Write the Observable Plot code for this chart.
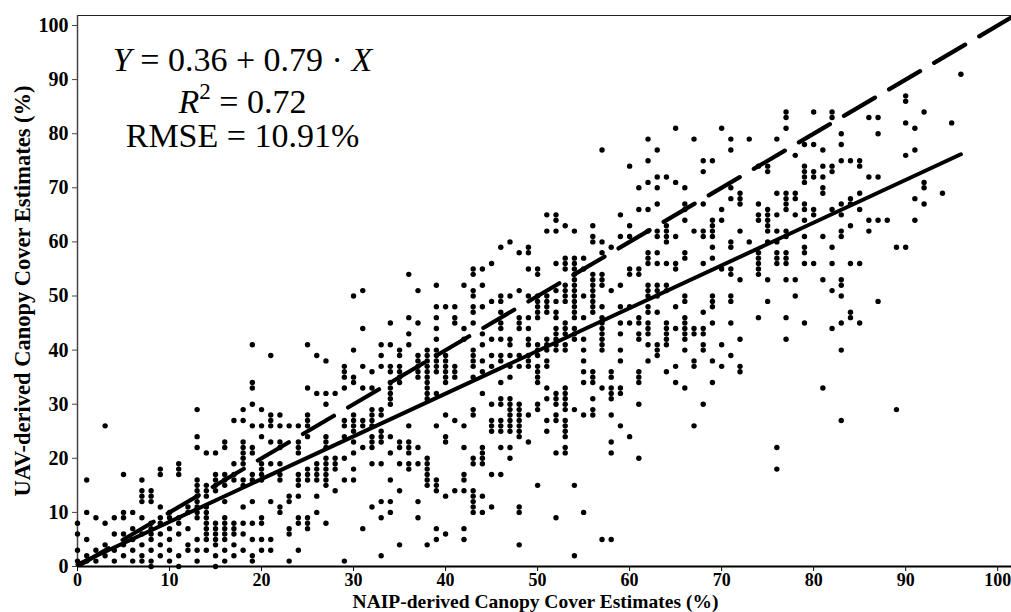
<!DOCTYPE html>
<html>
<head>
<meta charset="utf-8">
<script src="https://cdn.jsdelivr.net/npm/d3@7"></script>
<script src="https://cdn.jsdelivr.net/npm/@observablehq/plot@0.6"></script>
<style>
  html, body { margin: 0; padding: 0; background: #fff; }
  #chart svg { display: block; }
</style>
</head>
<body>
<div id="chart"></div>
<script>
// NAIP-derived canopy cover (x, %) columns and the UAV-derived values (y, %) read in each column
const naipX = [0,1,2,3,4,5,6,7,8,9,10,11,12,13,14,15,16,17,18,19,20,21,22,23,24,25,26,27,28,29,30,31,32,33,34,35,36,37,38,39,40,41,42,43,44,45,46,47,48,49,50,51,52,53,54,55,56,57,58,59,60,61,62,63,64,65,66,67,68,69,70,71,72,73,74,75,76,77,78,79,80,81,82,83,84,85,86,87,88,89,90,91,92,94,95,96];
const uavByColumn = [
  [1,3,6,8],
  [1,2,5,10,16],
  [1,3,9],
  [2,4,8,26],
  [1,3,6,9],
  [2,4,6,9,10,17],
  [1,3,5,7,10],
  [1,2,4,6,9,12,13,14,16],
  [0,1,3,5,6,7,8,12,13,14],
  [2,4,6,8,9,11,17,18],
  [1,3,5,7,9,10],
  [0,2,6,8,9,17,18,19],
  [3,4,7,10,11],
  [1,3,5,9,10,11,12,13,14,15,16,22,24,29],
  [3,5,6,7,8,9,10,11,13,14,15,21],
  [0,2,4,5,6,7,8,14,15,16,17,21],
  [1,3,5,6,7,8,9,12,15,16,17,22,23],
  [2,4,6,7,8,16,17,19,27],
  [3,6,8,11,15,16,19,20,21,22,23,27,29],
  [1,2,5,8,12,16,17,21,22,26,30,33,34,41],
  [3,5,8,9,16,17,18,19,24,26,29],
  [3,5,12,19,23,26,27,28,39],
  [10,11,16,17,19,22,23,26,28],
  [1,6,7,12,13,26],
  [3,8,9,13,15,16,17,21,22,23,26],
  [7,8,9,16,17,18,24,26,27,28,33,41],
  [10,13,16,17,18,19,32,39],
  [8,15,16,17,18,19,20,22,23,24,30,32,38],
  [14,18,19,20,32],
  [1,16,20,24,26,27,33,35,36,37],
  [16,18,21,23,25,26,27,28,34,35,40,50],
  [7,22,26,27,33,37,44,51],
  [11,19,22,23,24,26,27,28,29,33,36],
  [2,9,12,19,23,24,25,28,29,37,39,41],
  [10,12,16,21,24,30,31,32,33,34,36,37,41,45],
  [4,14,19,22,23,34,35,36,37,39,40],
  [18,19,21,22,23,26,41,43,46,54],
  [9,12,19,22,35,36,37,38,39,45,51],
  [4,15,16,17,18,19,20,31,32,33,34,35,36,37,38,39,40],
  [5,7,14,15,16,26,32,36,37,38,39,40,42,44,46,48,52],
  [6,13,23,24,28,34,35,36,37,38,39,48],
  [14,27,35,36,37,45,46,48],
  [5,7,14,16,17,22,26,42,44,52],
  [10,11,12,13,14,19,20,28,29,35,37,38,39,40,45,47,48,50,51,54,55],
  [10,13,19,20,21,22,32,36,38,41,43,48,52,55],
  [11,17,25,26,27,30,37,39,42,49,56],
  [17,22,25,26,27,30,31,34,38,39,42,44,45,47,49,50,59],
  [20,22,25,26,27,28,29,30,31,35,37,39,41,42,50,60],
  [4,10,11,24,25,26,27,28,29,30,37,39,44,45,46,51,58],
  [23,28,37,38,39,41,42,44,46,50,55,58,59],
  [15,29,30,34,35,36,37,39,40,41,46,47,48,49,50,54,55],
  [25,27,31,33,37,38,40,41,42,47,48,49,50,62,65],
  [9,21,27,28,30,31,32,40,41,42,43,44,46,47,49,51,56,62,64,65],
  [21,22,24,25,26,27,29,30,31,32,33,40,41,43,44,45,49,50,51,52,55,56,57,63],
  [2,15,29,42,43,44,46,47,48,49,50,51,52,53,54,55,56,57,62],
  [10,28,34,36,38,40,42,46,50,55,57],
  [28,29,31,34,35,36,47,48,49,50,51,52,53,54,60,61,63],
  [5,33,40,41,42,43,44,45,46,48,52,53,54,58,60,77],
  [5,21,23,28,31,32,33,35,36,51,59],
  [26,32,33,38,40,43,45,48,52,61,65],
  [24,45,48,54,55,61,63,74],
  [20,30,34,35,36,42,43,45,46,54,55,66,70],
  [38,41,43,44,45,47,48,50,51,52,56,57,58,62,66,71,75,79],
  [39,40,41,47,50,51,52,56,58,61,62,67,70,72,77],
  [36,41,42,43,44,45,51,52,56,60,61,62,63,72],
  [34,37,44,48,55,56,61,71,81],
  [33,40,42,43,44,45,46,49,50,57,58,64,66,67,70],
  [26,37,38,43,44,62,79],
  [30,40,41,43,44,47,56,61,62,67,73,75],
  [34,38,45,48,49,50,57,59,61,62,63,64,75],
  [37,41,55,64,66,81],
  [39,45,49,50,54,55,59,60,68,70,77,79],
  [36,37,42,53,62,67,68,69],
  [60,79],
  [46,54,55,56,57,58,64,65,67,74],
  [49,53,60,62,63,64,65,66,73,74],
  [18,22,56,57,58,60,62,65,69,79],
  [42,46,53,56,57,58,61,62,66,67,68,69,81,83,84],
  [50,53,65,68,69,76],
  [45,56,58,59,61,64,66,67,71,72,73,74,78],
  [56,65,66,72,73,78,84],
  [33,53,61,69,70,72,74,77],
  [44,51,56,59,66,73,74,83,84],
  [27,40,45,50,52,53,61,62,65,67,75,78,80],
  [46,47,56,63,67,68,75],
  [45,56,66,69,74,75],
  [62,64,72,83],
  [49,64,72,80,83],
  [64],
  [29,59],
  [59,76,82,86,87],
  [64,68,77,81],
  [67,70,71,84],
  [69],
  [82],
  [91]
];

// regression fit Y = 0.36 + 0.79 X over the NAIP range, and the 1:1 line
const fitCoef = [0.36, 0.79];
const fitXRange = [0, 96];
const identityRange = [0, 102];

const xTicks = [0,10,20,30,40,50,60,70,80,90,100];
const yTicks = [0,10,20,30,40,50,60,70,80,90,100];
const xDomain = [0, 101.5];
const yDomain = [0, 101.85];

const xLabel = "NAIP-derived Canopy Cover Estimates (%)";
const yLabel = "UAV-derived Canopy Cover Estimates (%)";
const eqLines = ["Y = 0.36 + 0.79 · X", "R2 = 0.72", "RMSE = 10.91%"];

const points = [];
naipX.forEach((x, i) => uavByColumn[i].forEach(y => points.push({naip: x, uav: y})));
const fitLine = fitXRange.map(x => ({x, y: fitCoef[0] + fitCoef[1] * x}));
const idLine = identityRange.map(v => ({x: v, y: v}));

const serif = "'Liberation Serif', 'Times New Roman', serif";
const eqStyle = {frameAnchor: "top-left", dx: 165, fontSize: 34, fontWeight: "normal", fontFamily: serif, lineAnchor: "middle", textAnchor: "middle", fill: "#000"};

const chart = Plot.plot({
  width: 1011,
  height: 612,
  marginLeft: 77,
  marginRight: 0,
  marginTop: 15,
  marginBottom: 46,
  style: {fontFamily: serif, fontSize: "18px", fontWeight: "bold", background: "#fff", color: "#000"},
  x: {domain: xDomain},
  y: {domain: yDomain},
  marks: [
    Plot.ruleY([yDomain[1]], {stroke: "#222", strokeWidth: 1.2}),
    Plot.ruleX([0], {stroke: "#444", strokeWidth: 1.5}),
    Plot.dot(points, {x: "naip", y: "uav", r: 2.7, fill: "#000"}),
    Plot.line(idLine, {x: "x", y: "y", stroke: "#000", strokeWidth: 4.2, strokeDasharray: "36,16.3", clip: true}),
    Plot.line(fitLine, {x: "x", y: "y", stroke: "#000", strokeWidth: 4}),
    Plot.ruleY([0], {stroke: "#000", strokeWidth: 2}),
    Plot.axisX(xTicks, {tickSize: 5, tickPadding: 2, label: null, stroke: "#000", fontSize: 18, fontWeight: "bold", fontFamily: serif}),
    Plot.axisY(yTicks, {tickSize: 5, tickPadding: 4, label: null, stroke: "#444", fontSize: 20, fontWeight: "bold", fontFamily: serif}),
    Plot.text([xLabel], {frameAnchor: "bottom", lineAnchor: "middle", textAnchor: "middle", dx: -9, dy: 35, text: d => d, fontSize: 19.5, fontWeight: "bold", fontFamily: serif}),
    Plot.text([yLabel], {frameAnchor: "left", textAnchor: "middle", lineAnchor: "middle", rotate: -90, dx: -55, text: d => d, fontSize: 22.5, fontWeight: "bold", fontFamily: serif}),
    Plot.text([eqLines[0]], {...eqStyle, dy: 45, text: d => d}),
    Plot.text([eqLines[1]], {...eqStyle, dy: 87, text: d => d}),
    Plot.text([eqLines[2]], {...eqStyle, dy: 121, text: d => d})
  ]
});

document.getElementById("chart").appendChild(chart);

// italic variables and the superscript in the equation lines
d3.select(chart).selectAll("text").each(function () {
  const t = d3.select(this);
  const s = this.textContent;
  if (s === eqLines[0]) {
    t.text(null);
    t.append("tspan").attr("font-style", "italic").text("Y");
    t.append("tspan").text(" = 0.36 + 0.79 · ");
    t.append("tspan").attr("font-style", "italic").text("X");
  } else if (s === eqLines[1]) {
    t.text(null);
    t.append("tspan").attr("font-style", "italic").text("R");
    t.append("tspan").attr("font-size", 23).attr("dy", -14).text("2");
    t.append("tspan").attr("dy", 14).text(" = 0.72");
  }
});
</script>
</body>
</html>
